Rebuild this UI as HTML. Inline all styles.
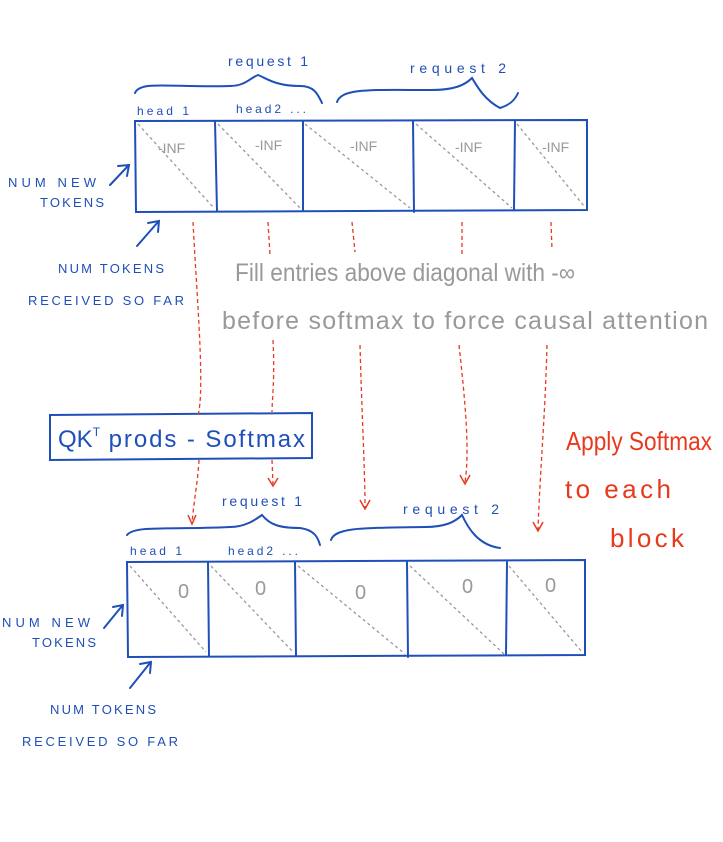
<!DOCTYPE html>
<html><head><meta charset="utf-8"><style>
html,body{margin:0;padding:0;background:#fff;}
svg{display:block;}
text{font-family:"Liberation Sans",sans-serif;}
</style></head><body>
<svg width="723" height="842" viewBox="0 0 723 842" xmlns="http://www.w3.org/2000/svg">
<g fill="none" stroke="#1f4fb8" stroke-width="2" stroke-linecap="round">
 <path d="M135 121 L587 120 L587 210 L136 212 Z"/>
 <path d="M215 121 L217 211 M303 121 L303 211 M413 121 L414 212 M515 121 L514 210"/>
 <path d="M135 93 C140 80 175 88 230 86 C245 86 250 78 258 75 C266 78 275 86 300 86 C315 86 318 95 322 103"/>
 <path d="M337 102 C342 88 370 90 430 90 C455 90 465 85 472 78 C478 88 485 100 500 108 C510 105 515 100 518 93"/>
 <path d="M127 562 L585 560 L585 655 L128 657 Z"/>
 <path d="M208 562 L209 656 M295 562 L296 656 M407 562 L408 657 M507 562 L506 655"/>
 <path d="M127 535 C135 525 170 530 230 527 C245 527 255 520 262 515 C270 525 280 528 300 528 C315 530 318 538 320 545"/>
 <path d="M331 540 C335 527 365 528 425 527 C445 527 455 522 462 515 C468 528 478 545 500 548"/>
 <path d="M50 415 L312 413 L312 458 L50 460 Z"/>
 <path d="M110 185 L128 166 M118 166 L129 165 L127 176"/>
 <path d="M137 246 L158 222 M148 223 L159 221 L158 232"/>
 <path d="M104 628 L122 606 M113 607 L123 605 L122 616"/>
 <path d="M130 688 L150 663 M140 664 L151 662 L150 673"/>
</g>
<g fill="none" stroke="#999" stroke-width="1.3" stroke-dasharray="3,3">
 <path d="M138 124 L213 207 M218 124 L300 208 M305 124 L410 208 M416 124 L512 208 M517 124 L584 206"/>
 <path d="M130 566 L206 652 M211 566 L293 652 M298 566 L405 654 M410 566 L504 654 M509 566 L582 652"/>
</g>
<g fill="none" stroke="#e8391d" stroke-width="1.3" stroke-dasharray="4,3">
 <path d="M193 222 C197 300 205 390 198 415"/>
 <path d="M199 460 C198 480 194 500 192 523"/>
 <path d="M268 222 L270 255 M273 340 C275 380 272 400 272 412 M272 460 L273 484"/>
 <path d="M352 222 L355 252 M360 345 C362 420 365 470 365 508"/>
 <path d="M462 222 L462 255 M459 345 C465 400 470 450 465 482"/>
 <path d="M551 222 L552 250 M547 345 C545 420 540 470 538 530"/>
</g>
<g fill="none" stroke="#e8391d" stroke-width="1.5">
 <path d="M188 515 L192 524 L196 515 M268 478 L273 486 L278 478 M360 500 L365 509 L370 500 M460 475 L465 484 L470 475 M533 522 L538 531 L543 522"/>
</g>
<g fill="#1f4fb8" font-size="13">
 <text x="228" y="66" font-size="14" textLength="80">request 1</text>
 <text x="410" y="73" font-size="14" textLength="96">request 2</text>
 <text x="137" y="115" font-size="12" textLength="52">head 1</text>
 <text x="236" y="113" font-size="12" textLength="70">head2 ...</text>
 <text x="8" y="187" textLength="88">NUM NEW</text>
 <text x="40" y="207" textLength="64">TOKENS</text>
 <text x="58" y="273" textLength="106">NUM TOKENS</text>
 <text x="28" y="305" textLength="156">RECEIVED SO FAR</text>
 <text x="222" y="506" font-size="14" textLength="80">request 1</text>
 <text x="403" y="514" font-size="14" textLength="96">request 2</text>
 <text x="130" y="555" font-size="12" textLength="52">head 1</text>
 <text x="228" y="555" font-size="12" textLength="70">head2 ...</text>
 <text x="2" y="627" textLength="88">NUM NEW</text>
 <text x="32" y="647" textLength="64">TOKENS</text>
 <text x="50" y="714" textLength="106">NUM TOKENS</text>
 <text x="22" y="746" textLength="156">RECEIVED SO FAR</text>
 <text x="58" y="447" font-size="24">QK<tspan font-size="12" dy="-11">T</tspan><tspan dy="11" textLength="205"> prods - Softmax</tspan></text>
</g>
<g fill="#999" font-size="14">
 <text x="158" y="153">-INF</text>
 <text x="255" y="150">-INF</text>
 <text x="350" y="151">-INF</text>
 <text x="455" y="152">-INF</text>
 <text x="542" y="152">-INF</text>
 <text x="235" y="281" font-size="25" textLength="340" lengthAdjust="spacingAndGlyphs">Fill entries above diagonal with -∞</text>
 <text x="222" y="329" font-size="25" textLength="486">before softmax to force causal attention</text>
 <text x="178" y="598" font-size="20">0</text>
 <text x="255" y="595" font-size="20">0</text>
 <text x="355" y="599" font-size="20">0</text>
 <text x="462" y="593" font-size="20">0</text>
 <text x="545" y="592" font-size="20">0</text>
</g>
<g fill="#e8391d" font-size="26">
 <text x="566" y="450" textLength="146" lengthAdjust="spacingAndGlyphs">Apply Softmax</text>
 <text x="565" y="498" textLength="106">to each</text>
 <text x="610" y="547" textLength="74">block</text>
</g>
</svg>
</body></html>
